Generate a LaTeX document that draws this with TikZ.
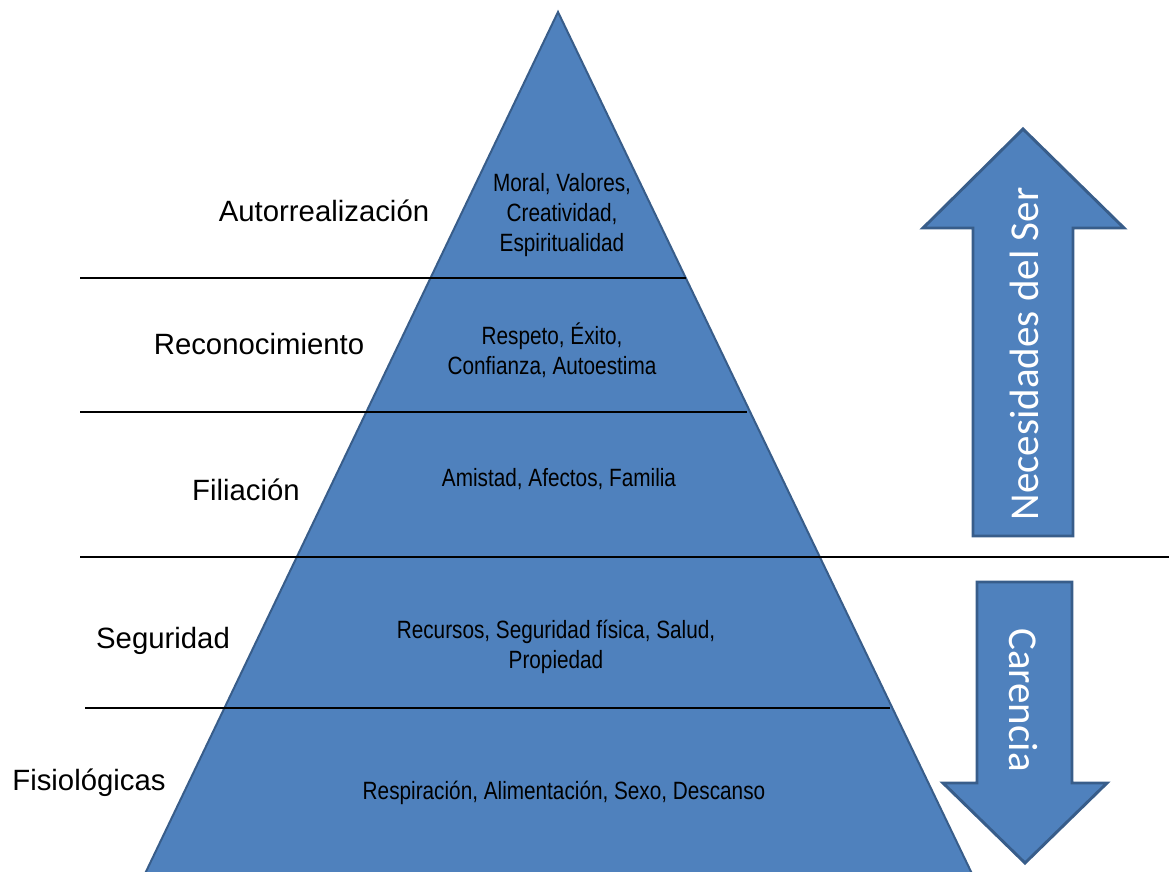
\documentclass[tikz,border=0pt]{standalone}
\usepackage{fontspec}
\setmainfont{Liberation Sans}
\newfontfamily\narrowfont{Liberation Sans}[FakeStretch=0.83]
\newfontfamily\calibrifont{Carlito}
\usetikzlibrary{positioning}
\definecolor{pyrblue}{HTML}{4F81BD}
\definecolor{pyredge}{HTML}{385D8A}

\begin{document}
\begin{tikzpicture}[x=0.75pt, y=-0.75pt]
  \tikzstyle{level}=[anchor=base, inner sep=0pt, font=\fontsize{22}{26}\selectfont]
  \tikzstyle{need}=[anchor=base, inner sep=0pt, align=center, font=\narrowfont\fontsize{18.75}{22.2}\selectfont]
  \tikzstyle{bigarrow}=[fill=pyrblue, draw=pyredge, line width=2.2pt, line join=miter]
  \tikzstyle{arrowtext}=[inner sep=0pt, text=white, font=\calibrifont\fontsize{30.75}{36}\selectfont]
  \tikzstyle{divider}=[draw=black, line width=1.1pt]
  \clip (0,0) rectangle (1169,871);
  % pyramid
  \filldraw[fill=pyrblue, draw=pyredge, line width=1.5pt] (558,12) -- (975,880) -- (142,880) -- cycle;
  % level lines
  \draw[divider] (80,278) -- (686,278);
  \draw[divider] (80,412) -- (747,412);
  \draw[divider] (80,557) -- (1169,557);
  \draw[divider] (85,708) -- (890,708);
  % level names
  \node[level] (autorr) at (324,221) {Autorrealización};
  \node[level] (recon) at (259,354) {Reconocimiento};
  \node[level] (filia) at (246,500) {Filiación};
  \node[level] (segur) at (163,648) {Seguridad};
  \node[level] (fisio) at (89,790) {Fisiológicas};
  % needs inside the pyramid (base = last line)
  \node[need] (moral) at (562,251) {Moral, Valores,\\Creatividad,\\Espiritualidad};
  \node[need] (respeto) at (552,374) {Respeto, Éxito,\\Confianza, Autoestima};
  \node[need] (amistad) at (559,486) {Amistad, Afectos, Familia};
  \node[need] (recursos) at (556,668) {Recursos, Seguridad física, Salud,\\Propiedad};
  \node[need] (respira) at (564,799) {Respiración, Alimentación, Sexo, Descanso};
  % arrows
  \filldraw[bigarrow] (1023,129) -- (1124,228) -- (1073,228) -- (1073,536) -- (973,536) -- (973,228) -- (923,228) -- cycle;
  \filldraw[bigarrow] (977,582) -- (1072,582) -- (1072,783) -- (1107,783) -- (1025,863) -- (943,783) -- (977,783) -- cycle;
  \node[arrowtext, rotate=90] (ser) at (1024,354) {Necesidades del Ser};
  \node[arrowtext, rotate=-90] (carencia) at (1023,700) {Carencia};
\end{tikzpicture}
\end{document}
